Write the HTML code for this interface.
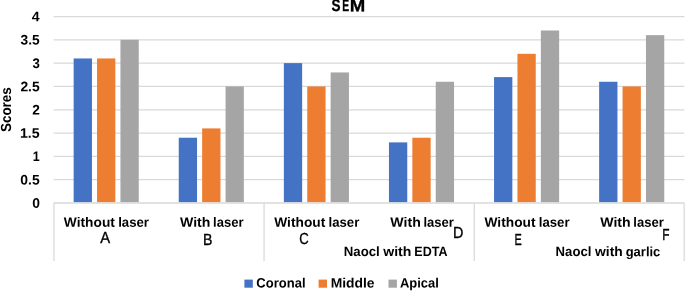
<!DOCTYPE html>
<html lang="en"><head><meta charset="utf-8"><title>SEM</title>
<style>html,body{margin:0;padding:0;background:#fff}body{width:685px;height:291px;overflow:hidden}svg{display:block;will-change:transform}text{font-family:"Liberation Sans",sans-serif;fill:#000}.b{font-weight:bold}</style></head><body>
<svg width="685" height="291" viewBox="0 0 685 291">
<rect width="685" height="291" fill="#fff"/>
<g stroke="#D9D9D9" stroke-width="1.25" fill="none">
<line x1="53.65" y1="203.00" x2="684.4" y2="203.00" stroke-width="1.6"/>
<line x1="53.65" y1="179.69" x2="684.4" y2="179.69"/>
<line x1="53.65" y1="156.38" x2="684.4" y2="156.38"/>
<line x1="53.65" y1="133.06" x2="684.4" y2="133.06"/>
<line x1="53.65" y1="109.75" x2="684.4" y2="109.75"/>
<line x1="53.65" y1="86.44" x2="684.4" y2="86.44"/>
<line x1="53.65" y1="63.12" x2="684.4" y2="63.12"/>
<line x1="53.65" y1="39.81" x2="684.4" y2="39.81"/>
<line x1="53.65" y1="16.50" x2="684.4" y2="16.50"/>
<line x1="53.95" y1="203.0" x2="53.95" y2="261.1"/>
<line x1="264.05" y1="203.0" x2="264.05" y2="261.1"/>
<line x1="474.25" y1="203.0" x2="474.25" y2="261.1"/>
<line x1="684.15" y1="203.0" x2="684.15" y2="261.1"/>
</g>
<rect x="73.65" y="58.46" width="18.3" height="143.64" fill="#4472C4"/>
<rect x="97.05" y="58.46" width="18.3" height="143.64" fill="#ED7D31"/>
<rect x="120.45" y="39.81" width="18.3" height="162.29" fill="#A5A5A5"/>
<rect x="178.75" y="137.73" width="18.3" height="64.37" fill="#4472C4"/>
<rect x="202.15" y="128.40" width="18.3" height="73.70" fill="#ED7D31"/>
<rect x="225.55" y="86.44" width="18.3" height="115.66" fill="#A5A5A5"/>
<rect x="283.85" y="63.12" width="18.3" height="138.97" fill="#4472C4"/>
<rect x="307.25" y="86.44" width="18.3" height="115.66" fill="#ED7D31"/>
<rect x="330.65" y="72.45" width="18.3" height="129.65" fill="#A5A5A5"/>
<rect x="388.95" y="142.39" width="18.3" height="59.71" fill="#4472C4"/>
<rect x="412.35" y="137.73" width="18.3" height="64.37" fill="#ED7D31"/>
<rect x="435.75" y="81.77" width="18.3" height="120.33" fill="#A5A5A5"/>
<rect x="494.05" y="77.11" width="18.3" height="124.99" fill="#4472C4"/>
<rect x="517.45" y="53.80" width="18.3" height="148.30" fill="#ED7D31"/>
<rect x="540.85" y="30.49" width="18.3" height="171.61" fill="#A5A5A5"/>
<rect x="599.15" y="81.77" width="18.3" height="120.33" fill="#4472C4"/>
<rect x="622.55" y="86.44" width="18.3" height="115.66" fill="#ED7D31"/>
<rect x="645.95" y="35.15" width="18.3" height="166.95" fill="#A5A5A5"/>
<text class="b" transform="rotate(0.03 32.15 207.75)" x="32.15" y="207.75" font-size="13.8" textLength="7.72" lengthAdjust="spacingAndGlyphs">0</text>
<text class="b" transform="rotate(0.03 20.35 184.44)" x="20.35" y="184.44" font-size="13.8" textLength="19.34" lengthAdjust="spacingAndGlyphs">0.5</text>
<text class="b" transform="rotate(0.03 32.72 161.12)" x="32.72" y="161.12" font-size="13.8" textLength="6.93" lengthAdjust="spacingAndGlyphs">1</text>
<text class="b" transform="rotate(0.03 20.01 137.81)" x="20.01" y="137.81" font-size="13.8" textLength="19.69" lengthAdjust="spacingAndGlyphs">1.5</text>
<text class="b" transform="rotate(0.03 32.22 114.5)" x="32.22" y="114.5" font-size="13.8" textLength="7.62" lengthAdjust="spacingAndGlyphs">2</text>
<text class="b" transform="rotate(0.03 20.42 91.19)" x="20.42" y="91.19" font-size="13.8" textLength="19.27" lengthAdjust="spacingAndGlyphs">2.5</text>
<text class="b" transform="rotate(0.03 32.40 67.88)" x="32.40" y="67.88" font-size="13.8" textLength="7.38" lengthAdjust="spacingAndGlyphs">3</text>
<text class="b" transform="rotate(0.03 20.58 44.56)" x="20.58" y="44.56" font-size="13.8" textLength="19.10" lengthAdjust="spacingAndGlyphs">3.5</text>
<text class="b" transform="rotate(0.03 31.89 21.25)" x="31.89" y="21.25" font-size="13.8" textLength="7.89" lengthAdjust="spacingAndGlyphs">4</text>
<text class="b" transform="rotate(0.03 348 11.2)" y="11.2" font-size="16.6" stroke="#000" stroke-width="0.3"><tspan x="331.61" textLength="9.02" lengthAdjust="spacingAndGlyphs">S</tspan><tspan x="342.21" textLength="6.90" lengthAdjust="spacingAndGlyphs">E</tspan><tspan x="349.66" textLength="15.49" lengthAdjust="spacingAndGlyphs">M</tspan></text>
<text class="b" transform="translate(10.8,131.6) rotate(-89.97)" x="-0.39" y="0" font-size="14.6" textLength="44.74" lengthAdjust="spacingAndGlyphs">Scores</text>
<text class="b" transform="rotate(0.03 63.9 226.7)" y="226.7" font-size="13.5"><tspan x="63.89" textLength="50.98" lengthAdjust="spacingAndGlyphs">Without</tspan> <tspan x="118.18" textLength="30.72" lengthAdjust="spacingAndGlyphs">laser</tspan></text>
<text class="b" transform="rotate(0.03 274.3 226.7)" y="226.7" font-size="13.5"><tspan x="274.29" textLength="50.98" lengthAdjust="spacingAndGlyphs">Without</tspan> <tspan x="328.58" textLength="30.72" lengthAdjust="spacingAndGlyphs">laser</tspan></text>
<text class="b" transform="rotate(0.03 484.6 226.7)" y="226.7" font-size="13.5"><tspan x="484.54" textLength="50.98" lengthAdjust="spacingAndGlyphs">Without</tspan> <tspan x="538.83" textLength="30.72" lengthAdjust="spacingAndGlyphs">laser</tspan></text>
<text class="b" transform="rotate(0.03 180.0 226.7)" y="226.7" font-size="13.5"><tspan x="179.99" textLength="30.44" lengthAdjust="spacingAndGlyphs">With</tspan> <tspan x="213.09" textLength="30.46" lengthAdjust="spacingAndGlyphs">laser</tspan></text>
<text class="b" transform="rotate(0.03 390.4 226.7)" y="226.7" font-size="13.5"><tspan x="390.39" textLength="30.44" lengthAdjust="spacingAndGlyphs">With</tspan> <tspan x="423.49" textLength="30.46" lengthAdjust="spacingAndGlyphs">laser</tspan></text>
<text class="b" transform="rotate(0.03 600.2 226.7)" y="226.7" font-size="13.5"><tspan x="600.19" textLength="30.44" lengthAdjust="spacingAndGlyphs">With</tspan> <tspan x="633.29" textLength="30.46" lengthAdjust="spacingAndGlyphs">laser</tspan></text>
<text class="b" transform="rotate(0.03 344.6 256.1)" y="256.1" font-size="13.5"><tspan x="343.72" textLength="36.02" lengthAdjust="spacingAndGlyphs">Naocl</tspan> <tspan x="383.24" textLength="28.13" lengthAdjust="spacingAndGlyphs">with</tspan> <tspan x="414.36" textLength="33.17" lengthAdjust="spacingAndGlyphs">EDTA</tspan></text>
<text class="b" transform="rotate(0.03 556.5 256.1)" y="256.1" font-size="13.5"><tspan x="555.62" textLength="35.81" lengthAdjust="spacingAndGlyphs">Naocl</tspan> <tspan x="595.04" textLength="27.67" lengthAdjust="spacingAndGlyphs">with</tspan> <tspan x="625.67" textLength="34.71" lengthAdjust="spacingAndGlyphs">garlic</tspan></text>
<text transform="rotate(0.03 100.17 243.4)" x="100.17" y="243.4" font-size="16.0" textLength="9.86" lengthAdjust="spacingAndGlyphs" stroke="#000" stroke-width="0.35">A</text>
<text transform="rotate(0.03 202.94 245.3)" x="202.94" y="245.3" font-size="16.0" textLength="9.40" lengthAdjust="spacingAndGlyphs" stroke="#000" stroke-width="0.35">B</text>
<text transform="rotate(0.03 299.33 244.2)" x="299.33" y="244.2" font-size="16.0" textLength="9.46" lengthAdjust="spacingAndGlyphs" stroke="#000" stroke-width="0.35">C</text>
<text transform="rotate(0.03 453.02 237.9)" x="453.02" y="237.9" font-size="16.0" textLength="10.36" lengthAdjust="spacingAndGlyphs" stroke="#000" stroke-width="0.35">D</text>
<text transform="rotate(0.03 514.51 244.6)" x="514.51" y="244.6" font-size="16.0" textLength="7.26" lengthAdjust="spacingAndGlyphs" stroke="#000" stroke-width="0.35">E</text>
<text transform="rotate(0.03 662.33 240.4)" x="662.33" y="240.4" font-size="16.0" textLength="7.25" lengthAdjust="spacingAndGlyphs" stroke="#000" stroke-width="0.35">F</text>
<rect x="244.4" y="279.6" width="8.4" height="8.1" fill="#4472C4"/>
<text class="b" transform="rotate(0.03 256.37 287.5)" x="256.37" y="287.5" font-size="13.5" textLength="49.15" lengthAdjust="spacingAndGlyphs">Coronal</text>
<rect x="318.6" y="279.6" width="8.4" height="8.1" fill="#ED7D31"/>
<text class="b" transform="rotate(0.03 330.67 287.5)" x="330.67" y="287.5" font-size="13.5" textLength="43.90" lengthAdjust="spacingAndGlyphs">Middle</text>
<rect x="388.5" y="279.6" width="8.4" height="8.1" fill="#A5A5A5"/>
<text class="b" transform="rotate(0.03 399.98 287.5)" x="399.98" y="287.5" font-size="13.5" textLength="38.94" lengthAdjust="spacingAndGlyphs">Apical</text>
</svg></body></html>
